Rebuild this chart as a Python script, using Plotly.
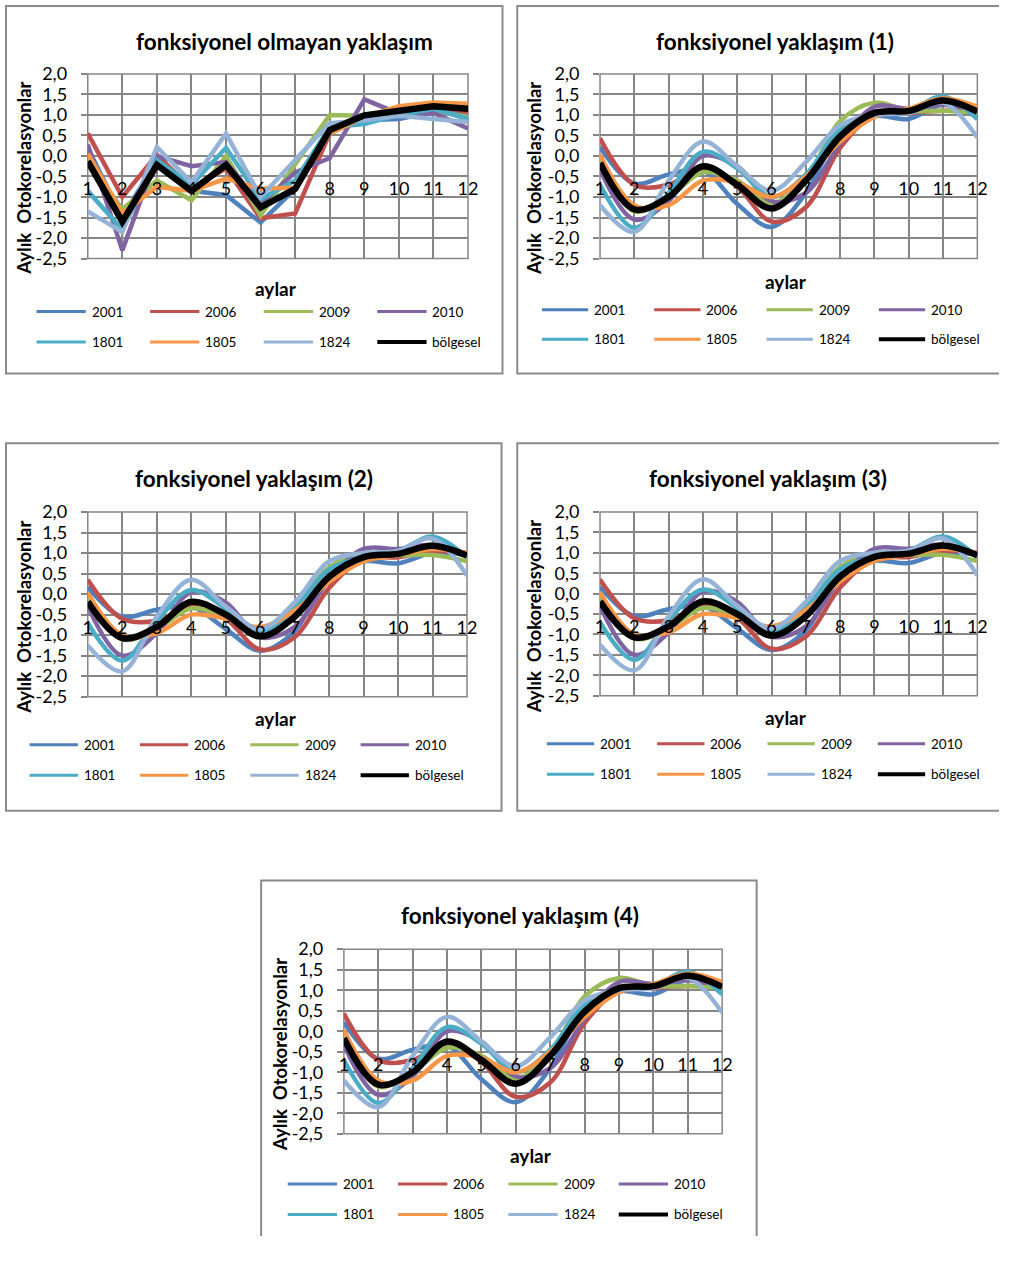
import plotly.graph_objects as go

# ---------------- data ----------------
months = list(range(1, 13))
series_names = ["2001", "2006", "2009", "2010", "1801", "1805", "1824", "bölgesel"]
series_colors = ["#4F81BD", "#C0504D", "#9BBB59", "#8064A2", "#4BACC6", "#F79646", "#95B3D7", "#000000"]
y_tickvals = [-2.5, -2.0, -1.5, -1.0, -0.5, 0.0, 0.5, 1.0, 1.5, 2.0]
y_ticktext = ["-2,5", "-2,0", "-1,5", "-1,0", "-0,5", "0,0", "0,5", "1,0", "1,5", "2,0"]
x_ticktext = [str(m) for m in months]

panel_titles = ["fonksiyonel olmayan yaklaşım", "fonksiyonel yaklaşım (1)",
                "fonksiyonel yaklaşım (2)", "fonksiyonel yaklaşım (3)",
                "fonksiyonel yaklaşım (4)"]
y_title = "Aylık  Otokorelasyonlar"
x_title = "aylar"

# fonksiyonel olmayan yaklaşım
nf_2001 = [0.20, -1.50, -0.10, -0.85, -0.95, -1.62, -0.80, 0.65, 0.87, 0.90, 1.07, 1.03]
nf_2006 = [0.55, -1.00, 0.03, -0.80, -0.30, -1.52, -1.40, 0.55, 0.95, 1.15, 1.22, 1.07]
nf_2009 = [-0.10, -1.30, -0.60, -1.08, 0.00, -1.45, -0.20, 1.00, 0.98, 1.02, 1.10, 0.95]
nf_2010 = [0.28, -2.30, 0.00, -0.25, -0.15, -1.17, -0.40, -0.05, 1.38, 1.03, 1.05, 0.67]
nf_1801 = [-0.85, -1.80, -0.10, -0.70, 0.20, -1.05, -0.60, 0.70, 0.78, 1.00, 1.15, 0.90]
nf_1805 = [0.06, -1.40, -0.75, -0.85, -0.55, -0.80, -0.77, 0.55, 0.95, 1.21, 1.30, 1.27]
nf_1824 = [-1.35, -1.85, 0.22, -0.65, 0.55, -1.00, -0.10, 0.80, 0.87, 0.98, 0.90, 0.83]
nf_bolgesel = [-0.13, -1.60, -0.22, -0.85, -0.22, -1.25, -0.80, 0.63, 0.99, 1.10, 1.21, 1.15]

# fonksiyonel yaklaşım (1) ve (4)
fa_2001 = [0.22, -0.67, -0.45, -0.35, -1.17, -1.73, -0.90, 0.55, 0.97, 0.90, 1.25, 0.95]
fa_2006 = [0.43, -0.70, -0.70, -0.30, -0.75, -1.60, -1.25, 0.20, 1.00, 1.05, 1.10, 1.10]
fa_2009 = [-0.10, -1.35, -1.00, -0.40, -0.60, -1.15, -0.55, 0.85, 1.30, 1.10, 1.10, 1.05]
fa_2010 = [-0.33, -1.55, -1.10, 0.00, -0.25, -1.10, -0.90, 0.30, 1.20, 1.15, 1.25, 1.10]
fa_1801 = [-0.70, -1.75, -0.90, 0.10, -0.30, -1.00, -0.45, 0.65, 1.00, 1.10, 1.45, 0.90]
fa_1805 = [0.03, -1.20, -1.20, -0.60, -0.65, -1.00, -0.50, 0.35, 0.95, 1.15, 1.40, 1.20]
fa_1824 = [-1.20, -1.85, -0.60, 0.35, -0.25, -0.85, -0.15, 0.75, 1.00, 1.05, 1.30, 0.45]
fa_bolgesel = [-0.17, -1.30, -1.00, -0.25, -0.70, -1.28, -0.60, 0.48, 1.05, 1.10, 1.35, 1.08]

# fonksiyonel yaklaşım (2) ve (3)
fb_2001 = [0.17, -0.55, -0.38, -0.30, -0.85, -1.38, -0.90, 0.45, 0.80, 0.75, 1.00, 0.95]
fb_2006 = [0.35, -0.60, -0.65, -0.30, -0.60, -1.35, -1.05, 0.15, 0.85, 0.90, 1.05, 1.00]
fb_2009 = [-0.10, -1.10, -0.85, -0.35, -0.55, -0.95, -0.35, 0.65, 1.00, 0.95, 0.95, 0.80]
fb_2010 = [-0.30, -1.50, -0.95, 0.05, -0.20, -1.05, -0.80, 0.35, 1.10, 1.10, 1.20, 0.95]
fb_1801 = [-0.70, -1.62, -0.65, 0.10, -0.35, -0.95, -0.35, 0.60, 0.90, 1.05, 1.40, 0.90]
fb_1805 = [0.03, -1.00, -0.95, -0.50, -0.60, -0.80, -0.40, 0.30, 0.80, 0.95, 1.10, 1.00]
fb_1824 = [-1.25, -1.88, -0.55, 0.35, -0.30, -0.85, -0.20, 0.80, 1.00, 1.05, 1.35, 0.45]
fb_bolgesel = [-0.19, -1.07, -0.80, -0.19, -0.50, -1.03, -0.55, 0.42, 0.90, 0.98, 1.18, 0.94]

nf_series = [nf_2001, nf_2006, nf_2009, nf_2010, nf_1801, nf_1805, nf_1824, nf_bolgesel]
fa_series = [fa_2001, fa_2006, fa_2009, fa_2010, fa_1801, fa_1805, fa_1824, fa_bolgesel]
fb_series = [fb_2001, fb_2006, fb_2009, fb_2010, fb_1801, fb_1805, fb_1824, fb_bolgesel]
panel_data = [nf_series, fa_series, fb_series, fb_series, fa_series]
panel_shape = ["linear", "spline", "spline", "spline", "spline"]

# ---------------- layout geometry (page pixels) ----------------
PAGE_W, PAGE_H = 1026, 1263
OFF = 8                      # default page margin around the figure
W, H = PAGE_W - 2 * OFF, PAGE_H - 2 * OFF
FONT = "Lato"
GRID = "#868686"
BOX = "#8a8a8a"

# plot areas: left, right, top, bottom
plot_px = [(92, 478, 71, 259), (612, 995, 71, 259), (92, 477, 517, 705),
           (612, 995, 517, 704), (352, 736, 962, 1150)]
# outer boxes: left, top, right, bottom, open side
box_px = [(9, 2, 513, 376, None), (528, 2, 1026, 376, "right"), (9, 447, 512, 821, None),
          (528, 447, 1026, 821, "right"), (268, 892, 771, 1263, "bottom")]
title_px = [(292, 38), (790, 38), (261, 483), (783, 483), (531, 928)]
ytitle_px = [(27, 177), (545, 178), (27, 624), (545, 624), (287, 1069)]
xtitle_px = [(283, 289), (801, 282), (283, 727), (801, 726), (542, 1172)]
# legend: first column line start x, column spacing, row y's, line length
legend_px = [(40, 115.3, 313, 344, 50), (553, 114, 311, 341, 47), (33, 112, 754, 785, 49),
             (558, 112, 753, 784, 48), (295, 112, 1201, 1232, 50)]


def fx(px):
    return (px - OFF) / W


def fy(py):
    return 1 - (py - OFF) / H


XMAX = fx(PAGE_W - OFF - 1)
YMIN = fy(PAGE_H - OFF - 1)

fig = go.Figure()
shapes = []
annotations = []

for p in range(5):
    n = "" if p == 0 else str(p + 1)
    l, r, t, b = plot_px[p]
    xd = [fx(l), fx(r)]
    yd = [fy(b), fy(t)]
    # position of the category axis (crossing near -0,5)
    xpos = yd[0] + (-0.5 + 2.5) / 4.5 * (yd[1] - yd[0])
    fig.update_layout(**{
        "xaxis" + n: dict(domain=xd, range=[1, 12], anchor="free", position=xpos,
                          tickmode="array", tickvals=months, ticktext=x_ticktext,
                          showgrid=True, gridcolor=GRID, gridwidth=1.5,
                          showline=False, zeroline=False, ticks="",
                          tickfont=dict(family=FONT, size=18, color="#000"),
                          ticklabelstandoff=0, fixedrange=True),
        "yaxis" + n: dict(domain=yd, range=[-2.5, 2.0], anchor="x" + n,
                          tickmode="array", tickvals=y_tickvals, ticktext=y_ticktext,
                          showgrid=True, gridcolor=GRID, gridwidth=1.5,
                          showline=False, zeroline=False, ticks="outside",
                          ticklen=6, tickcolor=GRID, tickwidth=1.5,
                          tickfont=dict(family=FONT, size=18, color="#000"),
                          ticklabelstandoff=10, fixedrange=True),
    })
    xr = "x" + n
    yr = "y" + n
    for name, color, vals in zip(series_names, series_colors, panel_data[p]):
        fig.add_trace(go.Scatter(
            x=months, y=vals, mode="lines", name=name, xaxis=xr, yaxis=yr,
            line=dict(color=color, width=6.5 if name == "bölgesel" else 4.5,
                      shape=panel_shape[p], smoothing=1.0),
            showlegend=False, hoverinfo="skip"))
    # plot-area frame
    shapes.append(dict(type="rect", xref=xr + " domain", yref=yr + " domain",
                       x0=0, x1=1, y0=0, y1=1, line=dict(color=GRID, width=1.5),
                       layer="below"))
    # outer chart box (cut at the page edge where the original is cut)
    bl, bt, br, bb, open_side = box_px[p]
    x0, x1, y0, y1 = fx(bl), fx(br), fy(bb), fy(bt)
    if open_side == "right":
        x1 = XMAX
        path = f"M {x1} {y1} L {x0} {y1} L {x0} {y0} L {x1} {y0}"
    elif open_side == "bottom":
        y0 = YMIN
        path = f"M {x0} {y0} L {x0} {y1} L {x1} {y1} L {x1} {y0}"
    else:
        path = f"M {x0} {y0} L {x0} {y1} L {x1} {y1} L {x1} {y0} Z"
    shapes.append(dict(type="path", xref="paper", yref="paper", path=path,
                       line=dict(color=BOX, width=2)))
    # title and axis titles
    annotations.append(dict(text="<b>" + panel_titles[p] + "</b>", xref="paper", yref="paper",
                            x=fx(title_px[p][0]), y=fy(title_px[p][1]),
                            xanchor="center", yanchor="middle", showarrow=False,
                            font=dict(family=FONT, size=22.5, color="#000")))
    annotations.append(dict(text="<b>" + y_title + "</b>", xref="paper", yref="paper",
                            x=fx(ytitle_px[p][0]), y=fy(ytitle_px[p][1]), textangle=-90,
                            xanchor="center", yanchor="middle", showarrow=False,
                            font=dict(family=FONT, size=18.5, color="#000")))
    annotations.append(dict(text="<b>" + x_title + "</b>", xref="paper", yref="paper",
                            x=fx(xtitle_px[p][0]), y=fy(xtitle_px[p][1]),
                            xanchor="center", yanchor="middle", showarrow=False,
                            font=dict(family=FONT, size=19, color="#000")))
    # legend (2 rows x 4 columns)
    lx0, dx, ry1, ry2, ll = legend_px[p]
    for i, (name, color) in enumerate(zip(series_names, series_colors)):
        cx = lx0 + (i % 4) * dx
        cy = ry1 if i < 4 else ry2
        shapes.append(dict(type="line", xref="paper", yref="paper",
                           x0=fx(cx), x1=fx(cx + ll), y0=fy(cy), y1=fy(cy),
                           line=dict(color=color, width=4 if name == "bölgesel" else 3)))
        annotations.append(dict(text=name, xref="paper", yref="paper",
                                x=fx(cx + ll + 4), y=fy(cy), xanchor="left", yanchor="middle",
                                showarrow=False,
                                font=dict(family=FONT, size=13.5, color="#000")))

fig.update_layout(width=W, height=H, margin=dict(l=0, r=0, t=0, b=0),
                  paper_bgcolor="white", plot_bgcolor="white",
                  showlegend=False, shapes=shapes, annotations=annotations,
                  font=dict(family=FONT))

fig.write_html("out.html")
